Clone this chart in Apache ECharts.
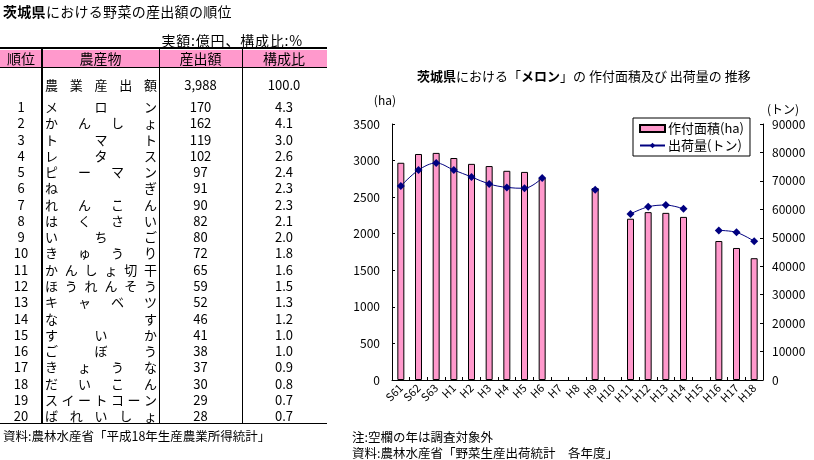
<!DOCTYPE html>
<html>
<head>
<meta charset="utf-8">
<script src="https://cdn.jsdelivr.net/npm/echarts@6/dist/echarts.min.js"></script>
<style>
  html, body { margin: 0; padding: 0; background: #fff; }
  body { width: 814px; height: 460px; position: relative; overflow: hidden;
         font-family: "Noto Sans CJK JP", sans-serif; color: #000; }
  #chart { position: absolute; left: 0; top: 0; width: 814px; height: 460px; }
  #ranking { position: absolute; left: 0; top: 0; width: 340px; height: 460px; font-size: 13px; }
  .abs { position: absolute; white-space: nowrap; }
  .cell { position: absolute; display: flex; align-items: center; justify-content: center; }
  .spread { justify-content: space-between; }
</style>
</head>
<body>
<div id="chart"></div>
<div id="ranking"></div>
<script>
// 左の表：茨城県の野菜産出額順位（億円、%）
const crops = ['メロン', 'かんしょ', 'トマト', 'レタス', 'ピーマン', 'ねぎ', 'れんこん', 'はくさい', 'いちご', 'きゅうり',
  'かんしょ切干', 'ほうれんそう', 'キャベツ', 'なす', 'すいか', 'ごぼう', 'きょうな', 'だいこん', 'スイートコーン', 'ばれいしょ'];
const outputs = ['170', '162', '119', '102', '97', '91', '90', '82', '80', '72', '65', '59', '52', '46', '41', '38', '37', '30', '29', '28'];
const shares = ['4.3', '4.1', '3.0', '2.6', '2.4', '2.3', '2.3', '2.1', '2.0', '1.8', '1.6', '1.5', '1.3', '1.2', '1.0', '1.0', '0.9', '0.8', '0.7', '0.7'];
const totalRow = ['農業産出額', '3,988', '100.0'];
const headers = ['順位', '農産物', '産出額', '構成比'];

// 右のグラフ：メロンの作付面積(ha)と出荷量(トン)
const years = ['S61', 'S62', 'S63', 'H1', 'H2', 'H3', 'H4', 'H5', 'H6', 'H7', 'H8', 'H9', 'H10',
  'H11', 'H12', 'H13', 'H14', 'H15', 'H16', 'H17', 'H18'];
const area = [2970, 3090, 3105, 3035, 2955, 2925, 2860, 2845, 2765, null, null, 2625, null,
  2205, 2295, 2285, 2230, null, 1900, 1805, 1665];
const shipment = [68200, 73800, 76300, 73800, 71400, 68900, 67700, 67400, 71000, null, null, 66900, null,
  58400, 60900, 61500, 60200, null, 52600, 51900, 48800];

const cols = [[0, 42], [42, 159], [159, 242], [242, 326]];
const rowTop = 98.5, rowH = 16.26;

const buildTable = () => {
  const root = document.getElementById('ranking');
  let html = '';
  html += '<div class="abs" style="left:3px;top:1px;font-size:14px;letter-spacing:0.3px;"><b>茨城県</b>における野菜の産出額の順位</div>';
  html += '<div class="abs" style="right:37px;top:30px;font-size:14px;letter-spacing:0.8px;">実額:億円、構成比:%</div>';
  // 見出し
  html += '<div class="abs" style="left:0;top:47px;width:327px;height:2px;background:#000;"></div>';
  html += '<div class="abs" style="left:0;top:50px;width:327px;height:17px;background:#FF99CC;"></div>';
  html += '<div class="abs" style="left:0;top:67px;width:327px;height:1px;background:#000;"></div>';
  headers.forEach((h, i) => {
    html += `<div class="cell" style="left:${cols[i][0]}px;top:49px;width:${cols[i][1] - cols[i][0]}px;height:18px;font-size:14px;">${h}</div>`;
  });
  // 縦線
  html += '<div class="abs" style="left:41px;top:49px;width:2px;height:374px;background:#000;"></div>';
  html += '<div class="abs" style="left:159px;top:49px;width:1px;height:374px;background:#000;"></div>';
  html += '<div class="abs" style="left:242px;top:49px;width:1px;height:374px;background:#000;"></div>';
  html += '<div class="abs" style="left:0;top:423px;width:327px;height:1px;background:#000;"></div>';

  const spread = (t) => t.split('').map(c => `<span>${c}</span>`).join('');
  // 農業産出額
  html += `<div class="cell spread" style="left:45px;top:75px;width:112px;height:18px;">${spread(totalRow[0])}</div>`;
  html += `<div class="cell" style="left:159px;top:75px;width:83px;height:18px;">${totalRow[1]}</div>`;
  html += `<div class="cell" style="left:242px;top:75px;width:84px;height:18px;">${totalRow[2]}</div>`;

  crops.forEach((name, i) => {
    const top = rowTop + i * rowH;
    html += `<div class="cell" style="left:0;top:${top}px;width:42px;height:${rowH}px;">${i + 1}</div>`;
    html += `<div class="cell spread" style="left:45px;top:${top}px;width:112px;height:${rowH}px;">${spread(name)}</div>`;
    html += `<div class="cell" style="left:159px;top:${top}px;width:83px;height:${rowH}px;">${outputs[i]}</div>`;
    html += `<div class="cell" style="left:242px;top:${top}px;width:84px;height:${rowH}px;">${shares[i]}</div>`;
  });
  html += '<div class="abs" style="left:3px;top:426px;font-size:12.5px;">資料:農林水産省「平成18年生産農業所得統計」</div>';
  root.innerHTML = html;
};

const getOptionChart = () => {
  return {
    animation: false,
    textStyle: { fontFamily: '"Noto Sans CJK JP", sans-serif', color: '#000' },
    title: {
      text: '{b|茨城県}における「{b|メロン}」の 作付面積及び 出荷量の 推移',
      left: 412,
      top: 65,
      textStyle: {
        fontSize: 13, fontWeight: 'normal', color: '#000',
        rich: { b: { fontSize: 13, fontWeight: 'bold', color: '#000' } }
      }
    },
    legend: {
      orient: 'vertical',
      left: 633,
      top: 118,
      padding: [4, 6, 4, 6],
      itemGap: 4,
      itemWidth: 25,
      itemHeight: 7,
      borderColor: '#000',
      borderWidth: 1,
      borderRadius: 0,
      textStyle: { fontSize: 13, color: '#000', padding: [0, 0, 0, -2] },
      data: [{ name: '作付面積(ha)', icon: 'rect' }, { name: '出荷量(トン)' }]
    },
    grid: { left: 392, right: 51, top: 124, bottom: 80 },
    xAxis: {
      type: 'category',
      data: years,
      axisLine: { lineStyle: { color: '#000', width: 1 } },
      axisTick: { show: true, inside: true, length: 3, lineStyle: { color: '#000' } },
      axisLabel: { interval: 0, rotate: 45, fontSize: 11, color: '#000', margin: 6 }
    },
    yAxis: [
      {
        type: 'value',
        min: 0, max: 3500, interval: 500,
        name: '(ha)',
        nameGap: 18,
        nameTextStyle: { fontSize: 12, color: '#000', align: 'right', padding: [0, -4, 0, 0] },
        axisLine: { show: true, lineStyle: { color: '#000' } },
        axisTick: { show: true, inside: true, length: 3, lineStyle: { color: '#000' } },
        axisLabel: { fontSize: 12, color: '#000', margin: 12, formatter: (v) => String(v) },
        splitLine: { show: false }
      },
      {
        type: 'value',
        min: 0, max: 90000, interval: 10000,
        name: '(トン)',
        nameGap: 9,
        nameTextStyle: { fontSize: 12, color: '#000', align: 'left', padding: [0, 0, 0, 4] },
        axisLine: { show: true, lineStyle: { color: '#000' } },
        axisTick: { show: true, inside: true, length: 3, lineStyle: { color: '#000' } },
        axisLabel: { fontSize: 12, color: '#000', margin: 9, formatter: (v) => String(v) },
        splitLine: { show: false }
      }
    ],
    series: [
      {
        name: '作付面積(ha)',
        type: 'bar',
        data: area,
        barWidth: 7,
        itemStyle: { color: '#FF99CC', borderColor: '#000', borderWidth: 1 }
      },
      {
        name: '出荷量(トン)',
        type: 'line',
        yAxisIndex: 1,
        data: shipment,
        smooth: 0.35,
        connectNulls: false,
        symbol: 'diamond',
        symbolSize: 8,
        showAllSymbol: true,
        lineStyle: { color: '#000080', width: 1 },
        itemStyle: { color: '#000080' }
      }
    ],
    graphic: [
      {
        type: 'text',
        left: 352,
        top: 429,
        style: {
          text: '注:空欄の年は調査対象外\n資料:農林水産省「野菜生産出荷統計　各年度」',
          font: '12.5px "Noto Sans CJK JP", sans-serif',
          lineHeight: 16,
          fill: '#000'
        }
      }
    ]
  };
};

const initCharts = () => {
  buildTable();
  const chart = echarts.init(document.getElementById('chart'));
  chart.setOption(getOptionChart());
};

window.addEventListener('load', () => {
  initCharts();
});
</script>
</body>
</html>
